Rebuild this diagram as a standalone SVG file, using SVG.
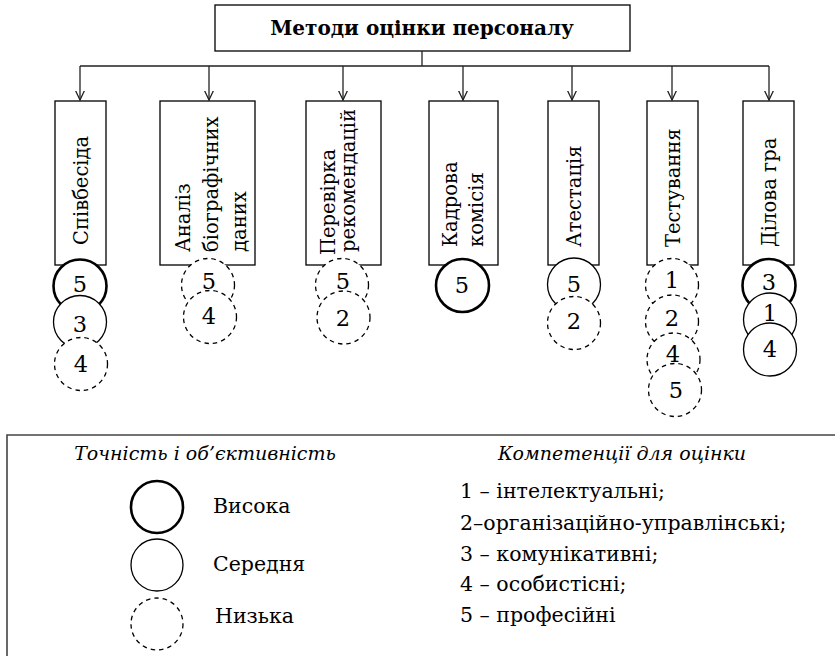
<svg xmlns="http://www.w3.org/2000/svg" width="835" height="656" viewBox="0 0 835 656">
<style>
text{font-family:"DejaVu Serif","Liberation Serif",serif;fill:#000}
.box{fill:#fff;stroke:#000;stroke-width:1.3}
.lbl{font-size:19.5px}
.num{font-size:22.5px;text-anchor:middle}
.hi{fill:#fff;stroke:#000;stroke-width:2.6}
.md{fill:#fff;stroke:#000;stroke-width:1.3}
.lo{fill:#fff;stroke:#000;stroke-width:1.3;stroke-dasharray:4.5 4}
.ln{fill:none;stroke:#222;stroke-width:1.3}
.leg{font-size:20.5px}
.it{font-size:19px;font-style:italic;text-anchor:middle}
</style>
<defs>
<marker id="ar" viewBox="0 0 10 10" refX="9.5" refY="5" markerWidth="10" markerHeight="10" markerUnits="userSpaceOnUse" orient="auto">
<path d="M0,0.5 L9.5,5 L0,9.5" fill="none" stroke="#222" stroke-width="1.3"/>
</marker>
</defs>
<rect width="835" height="656" fill="#fff"/>
<g id="title">
<rect class="box" x="215" y="5" width="415" height="46"/>
<text x="422" y="35" font-size="20" font-weight="bold" text-anchor="middle">Методи оцінки персоналу</text>
</g>
<g id="connectors">
<path class="ln" d="M422,51 V66 M80,66 H769"/>
<path class="ln" d="M80,66 V100" marker-end="url(#ar)"/>
<path class="ln" d="M209,66 V100" marker-end="url(#ar)"/>
<path class="ln" d="M343,66 V100" marker-end="url(#ar)"/>
<path class="ln" d="M463,66 V100" marker-end="url(#ar)"/>
<path class="ln" d="M572,66 V100" marker-end="url(#ar)"/>
<path class="ln" d="M672,66 V100" marker-end="url(#ar)"/>
<path class="ln" d="M769,66 V100" marker-end="url(#ar)"/>
</g>
<g id="m1">
<rect class="box" x="55" y="101" width="51" height="164"/>
<text class="lbl" x="88" y="245" transform="rotate(-90 88 245)">Співбесіда</text>
<circle class="hi" cx="80" cy="286" r="26.5"/><text class="num" x="80" y="292">5</text>
<circle class="md" cx="80" cy="322" r="26.5"/><text class="num" x="80" y="332">3</text>
<circle class="lo" cx="81" cy="364" r="26.5"/><text class="num" x="81" y="372">4</text>
</g>
<g id="m2">
<rect class="box" x="160" y="101" width="95" height="164"/>
<text class="lbl" x="190" y="252" transform="rotate(-90 190 252)">Аналіз</text>
<text class="lbl" x="218" y="252" transform="rotate(-90 218 252)">біографічних</text>
<text class="lbl" x="246" y="252" transform="rotate(-90 246 252)">даних</text>
<circle class="lo" cx="208" cy="285" r="26.5"/><text class="num" x="209" y="289">5</text>
<circle class="lo" cx="210" cy="317" r="26.5"/><text class="num" x="209" y="324">4</text>
</g>
<g id="m3">
<rect class="box" x="306" y="101" width="75" height="164"/>
<text class="lbl" x="335" y="255" transform="rotate(-90 335 255)">Перевірка</text>
<text class="lbl" x="355" y="252" transform="rotate(-90 355 252)">рекомендацій</text>
<circle class="lo" cx="342" cy="285" r="26.5"/><text class="num" x="343" y="289">5</text>
<circle class="lo" cx="343.5" cy="317.5" r="26.5"/><text class="num" x="343" y="326">2</text>
</g>
<g id="m4">
<rect class="box" x="429" y="101" width="69" height="164"/>
<text class="lbl" x="457" y="247" transform="rotate(-90 457 247)">Кадрова</text>
<text class="lbl" x="483" y="247" transform="rotate(-90 483 247)">комісія</text>
<circle class="hi" cx="462.5" cy="285.5" r="26.5"/><text class="num" x="462" y="293">5</text>
</g>
<g id="m5">
<rect class="box" x="548" y="101" width="51" height="164"/>
<text class="lbl" x="581" y="247" transform="rotate(-90 581 247)">Атестація</text>
<circle class="md" cx="574" cy="284.5" r="26.5"/><text class="num" x="574" y="292">5</text>
<circle class="lo" cx="574" cy="323" r="26.5"/><text class="num" x="574" y="329">2</text>
</g>
<g id="m6">
<rect class="box" x="647" y="101" width="51" height="164"/>
<text class="lbl" x="680" y="247" transform="rotate(-90 680 247)">Тестування</text>
<circle class="lo" cx="672" cy="285" r="26.5"/><text class="num" x="672" y="288">1</text>
<circle class="lo" cx="672" cy="321.5" r="26.5"/><text class="num" x="672" y="326">2</text>
<circle class="lo" cx="673.5" cy="359.5" r="26.5"/><text class="num" x="673" y="362">4</text>
<circle class="lo" cx="675" cy="390" r="26.5"/><text class="num" x="676" y="398">5</text>
</g>
<g id="m7">
<rect class="box" x="743" y="101" width="51" height="164"/>
<text class="lbl" x="776" y="247" transform="rotate(-90 776 247)">Ділова гра</text>
<circle class="hi" cx="769" cy="285.5" r="26.5"/><text class="num" x="769" y="290">3</text>
<circle class="md" cx="770" cy="319.5" r="26.5"/><text class="num" x="770" y="321">1</text>
<circle class="md" cx="770" cy="349.5" r="26.5"/><text class="num" x="770" y="357">4</text>
</g>
<g id="legend">
<path d="M7,656 V435 H835" fill="none" stroke="#444" stroke-width="1.6"/>
<text class="it" x="205" y="460">Точність і об’єктивність</text>
<circle class="hi" cx="157" cy="507" r="26"/>
<text class="leg" x="213" y="513">Висока</text>
<circle class="md" cx="157" cy="565" r="26"/>
<text class="leg" x="213" y="571">Середня</text>
<circle class="lo" cx="157" cy="624" r="26"/>
<text class="leg" x="215" y="623">Низька</text>
<text class="it" x="622" y="460">Компетенції для оцінки</text>
<text class="leg" x="460" y="498">1 – інтелектуальні;</text>
<text class="leg" x="460" y="530">2–організаційно-управлінські;</text>
<text class="leg" x="460" y="561">3 – комунікативні;</text>
<text class="leg" x="460" y="591">4 – особистісні;</text>
<text class="leg" x="460" y="622">5 – професійні</text>
</g>
</svg>
